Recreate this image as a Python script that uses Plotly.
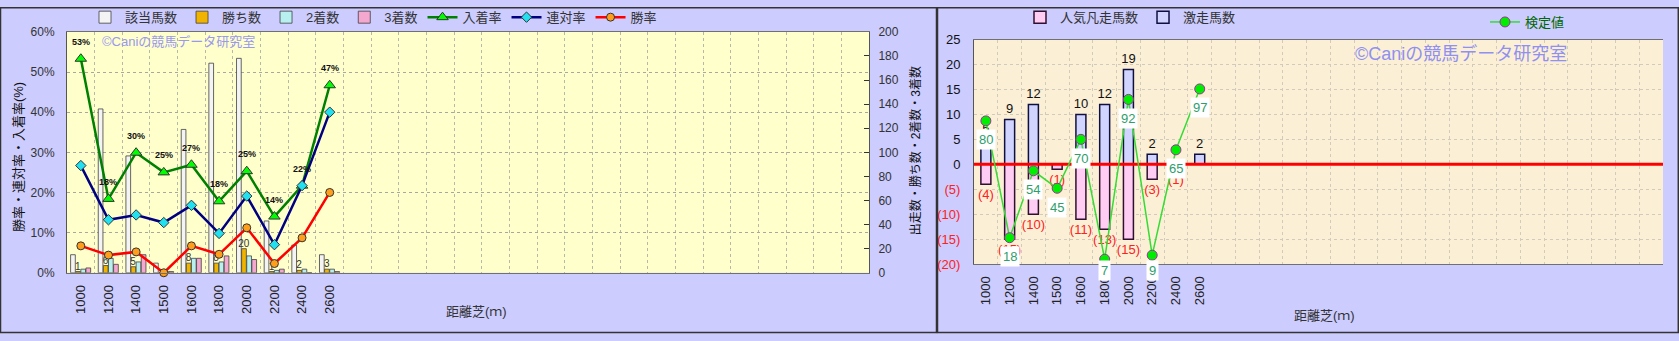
import plotly.graph_objects as go

# ---------------- data ----------------
categories = ["1000", "1200", "1400", "1500", "1600", "1800", "2000", "2200", "2400", "2600"]
n_slots = 29  # category slots on the x axis (only the first 10 are used)

# left chart: counts
runners = [15, 136, 97, 8, 119, 174, 178, 43, 23, 15]      # 該当馬数
wins = [1, 6, 5, 0, 8, 8, 20, 1, 2, 3]                       # 勝ち数
seconds = [3, 12, 9, 1, 12, 9, 14, 2, 3, 3]                  # 2着数
thirds = [4, 7, 15, 1, 12, 14, 11, 3, 0, 1]                  # 3着数
# left chart: rates (%)
place_rate = [53.3, 18.4, 29.9, 25.0, 26.9, 17.8, 25.3, 14.0, 21.7, 46.7]   # 入着率
quinella_rate = [26.7, 13.2, 14.4, 12.5, 16.8, 9.8, 19.1, 7.0, 21.7, 40.0]  # 連対率
win_rate = [6.7, 4.4, 5.2, 0.0, 6.7, 4.6, 11.2, 2.3, 8.7, 20.0]             # 勝率

# right chart
surprise = [5, 9, 12, 0, 10, 12, 19, 2, 0, 2]       # 激走馬数
flop = [4, 15, 10, 1, 11, 13, 15, 3, 1, 0]          # 人気凡走馬数 (drawn downward)
test_plot = [8.7, -14.7, -1.3, -4.8, 5.0, -19.0, 13.0, -18.2, 2.9, 15.1]  # 検定値 (plotted)
test_label = [80, 18, 54, 45, 70, 7, 92, 9, 65, 97]                       # 検定値 (label)

left_ticks_pct = [0, 10, 20, 30, 40, 50, 60]
right_ticks_cnt = [0, 20, 40, 60, 80, 100, 120, 140, 160, 180, 200]
r_ticks = [-20, -15, -10, -5, 0, 5, 10, 15, 20, 25]

# ---------------- layout helpers ----------------
W, H = 1679, 341
def px(x):
    return x / W
def py(y):
    return 1 - y / H

L_X0, L_X1, L_Y0, L_Y1 = 67, 869, 26, 278
R_X0, R_X1, R_Y0, R_Y1 = 974, 1663, 34, 269

FONT = "Liberation Sans, Arial, Noto Sans CJK JP"
xs = list(range(len(categories)))

fig = go.Figure()

# ---- left chart bars (base axis y, counts) ----
bar_w = 0.17
bar_specs = [
    ("該当馬数", runners, "#F4F4F4", -0.37),
    ("勝ち数", wins, "#F0B400", -0.185),
    ("2着数", seconds, "#B8F0F0", 0.0),
    ("3着数", thirds, "#F4A8D0", 0.185),
]
for name, vals, col, off in bar_specs:
    kw = {}
    if name == "勝ち数":
        kw = dict(text=[str(v) if v > 0 else "" for v in vals], textposition="outside",
                  textangle=0, constraintext="none", cliponaxis=False,
                  textfont=dict(size=10, color="#333333", family=FONT))
    fig.add_trace(go.Bar(
        x=xs, y=vals, name=name, xaxis="x", yaxis="y",
        width=bar_w, offset=off,
        marker=dict(color=col, line=dict(color="#404040", width=0.8)),
        legend="legend", hoverinfo="skip", **kw))

# ---- left chart lines (overlay axis y2, %) ----
line_specs = [
    ("入着率", place_rate, "#008000", "triangle-up", "#00FF00", 10),
    ("連対率", quinella_rate, "#000080", "diamond", "#22E0F0", 8),
    ("勝率", win_rate, "#FF0000", "circle", "#FF9E1A", 8),
]
for name, vals, lc, sym, mc, ms in line_specs:
    fig.add_trace(go.Scatter(
        x=xs, y=vals, name=name, xaxis="x", yaxis="y2", mode="lines+markers",
        line=dict(color=lc, width=2.5),
        marker=dict(symbol=sym, color=mc, size=ms, line=dict(color="#333333", width=1)),
        legend="legend", hoverinfo="skip", cliponaxis=False))

# ---- right chart bars ----
fig.add_trace(go.Bar(
    x=xs, y=[-v for v in flop], name="人気凡走馬数", xaxis="x2", yaxis="y3",
    width=0.42, offset=-0.21,
    marker=dict(color="#FFCCF4", line=dict(color="#301030", width=1.5)),
    text=[f"({v})" if v > 0 else "" for v in flop], textposition="outside",
    textangle=0, constraintext="none", cliponaxis=False,
    textfont=dict(size=13, color="#FF2020", family=FONT),
    legend="legend2", hoverinfo="skip"))
fig.add_trace(go.Bar(
    x=xs, y=surprise, name="激走馬数", xaxis="x2", yaxis="y3",
    width=0.42, offset=-0.21,
    marker=dict(color="#D0D4FF", line=dict(color="#101040", width=1.5)),
    text=[str(v) if v > 0 else "" for v in surprise], textposition="outside",
    textangle=0, constraintext="none", cliponaxis=False,
    textfont=dict(size=13, color="#111111", family=FONT),
    legend="legend2", hoverinfo="skip"))
# zero reference line
fig.add_trace(go.Scatter(
    x=[-0.5, n_slots - 0.5], y=[0, 0], xaxis="x2", yaxis="y3", mode="lines",
    line=dict(color="#FF0000", width=3), showlegend=False, hoverinfo="skip"))
# 検定値 line
fig.add_trace(go.Scatter(
    x=xs, y=test_plot, name="検定値", xaxis="x2", yaxis="y3", mode="lines+markers",
    line=dict(color="#33DD33", width=1.5),
    marker=dict(symbol="circle", color="#00EE00", size=10, line=dict(color="#993399", width=1)),
    legend="legend3", hoverinfo="skip", cliponaxis=False))

annotations = []
# 入着率 labels
for x, v in zip(xs, place_rate):
    annotations.append(dict(x=x, y=v, xref="x", yref="y2", text=f"<b>{v:.0f}%</b>",
                            showarrow=False, yshift=17, xanchor="center", yanchor="middle",
                            font=dict(size=9, color="#111111", family=FONT)))
# 検定値 labels (white boxes)
r_h = R_Y1 - R_Y0
for x, v, lab in zip(xs, test_plot, test_label):
    p = R_Y0 + (25 - v) / 45 * r_h
    lp = min(p + 19, 275)
    annotations.append(dict(x=x, y=v, xref="x2", yref="y3", text=str(lab),
                            showarrow=False, yshift=-(lp - p), bgcolor="#FFFFFF",
                            xanchor="center", yanchor="middle",
                            borderpad=2, font=dict(size=13, color="#2E9E6A", family=FONT)))
# axis titles and watermarks
def pa(x, y, text, size, color, angle=0, xanchor="center"):
    return dict(x=px(x), y=py(y), xref="paper", yref="paper", text=text, textangle=angle,
                showarrow=False, xanchor=xanchor, yanchor="middle",
                font=dict(size=size, color=color, family=FONT))

annotations += [
    pa(18, 157, "勝率・連対率・入着率(%)", 13, "#111111", -90),
    pa(915, 151, "出走数・勝ち数・2着数・3着数", 12, "#111111", -90),
    pa(476, 318, "距離芝(ｍ)", 13, "#333333"),
    pa(1324, 323, "距離芝(ｍ)", 13, "#333333"),
    pa(100, 36, "©Caniの競馬データ研究室", 13, "#9999EE", xanchor="left"),
    pa(1353, 49, "©Caniの競馬データ研究室", 18, "#9090F0", xanchor="left"),
]

r_ticktext = [f'<span style="color:#FF2020">({-t})</span>' if t < 0 else str(t) for t in r_ticks]

shapes = [
    dict(type="rect", xref="x2 domain", yref="y3 domain", x0=0, x1=1, y0=0, y1=1,
         fillcolor="#FBEFD6", line=dict(width=0), layer="below"),
    dict(type="rect", xref="paper", yref="paper", x0=px(0.5), x1=px(936.5), y0=py(340.5), y1=py(0.8),
         line=dict(color="#333333", width=1.5), layer="above"),
    dict(type="rect", xref="paper", yref="paper", x0=px(937.5), x1=px(1678.3), y0=py(340.5), y1=py(0.8),
         line=dict(color="#333333", width=1.5), layer="above"),
]

common_x = dict(range=[-0.5, n_slots - 0.5], tickmode="array", tickvals=xs, ticktext=categories,
                tickangle=-90, tickfont=dict(size=13, color="#222222", family=FONT),
                showgrid=False, zeroline=False, ticks="", ticklabelstandoff=6,
                showline=True, mirror=True, linecolor="#707070", linewidth=1)

fig.update_layout(
    width=W, height=H, autosize=False,
    margin=dict(l=0, r=0, t=0, b=0),
    paper_bgcolor="#CCCCFF", plot_bgcolor="#FFFFCC",
    font=dict(family=FONT, size=12, color="#333333"),
    barmode="overlay",
    xaxis=dict(domain=[px(L_X0), px(L_X1)], anchor="y", **common_x,
               minor=dict(tick0=-0.5, dtick=1, showgrid=True, gridcolor="#B8B8A8",
                          griddash="dot", gridwidth=1, ticks="")),
    yaxis=dict(domain=[py(L_Y1), py(L_Y0)], anchor="x", side="right", range=[0, 200],
               tickmode="array", tickvals=right_ticks_cnt, ticks="inside", ticklen=5,
               tickcolor="#333333", showgrid=False, zeroline=False, showline=True,
               linecolor="#555555", ticklabelstandoff=6,
               tickfont=dict(size=12, color="#333333", family=FONT)),
    yaxis2=dict(overlaying="y", anchor="x", side="left", range=[0, 60],
                tickmode="array", tickvals=left_ticks_pct,
                ticktext=[f"{v}%" for v in left_ticks_pct],
                showgrid=True, gridcolor="#A8A8A0", griddash="dot", gridwidth=1,
                zeroline=False, showline=True, linecolor="#555555", ticks="",
                ticklabelstandoff=9, tickfont=dict(size=12, color="#333333", family=FONT)),
    xaxis2=dict(domain=[px(R_X0), px(R_X1)], anchor="y3", **common_x,
                minor=dict(tick0=-0.5, dtick=1, showgrid=True, gridcolor="#D2CABA",
                           griddash="dot", gridwidth=1, ticks="")),
    yaxis3=dict(domain=[py(R_Y1), py(R_Y0)], anchor="x2", range=[-20, 25],
                tickmode="array", tickvals=r_ticks, ticktext=r_ticktext,
                showgrid=True, gridcolor="#D2CABA", griddash="dot", gridwidth=1,
                zeroline=False, showline=True, linecolor="#555555", ticks="",
                ticklabelstandoff=10, tickfont=dict(size=13, color="#111111", family=FONT)),
    legend=dict(orientation="h", x=px(85), y=py(-5), xanchor="left", yanchor="top",
                bgcolor="rgba(0,0,0,0)", font=dict(size=13, color="#333333", family=FONT),
                traceorder="normal"),
    legend2=dict(orientation="h", x=px(1020), y=py(-5), xanchor="left", yanchor="top",
                 bgcolor="rgba(0,0,0,0)", font=dict(size=13, color="#333333", family=FONT),
                 traceorder="normal"),
    legend3=dict(orientation="h", x=px(1485), y=py(0), xanchor="left", yanchor="top",
                 bgcolor="rgba(0,0,0,0)", font=dict(size=13, color="#006600", family=FONT)),
    annotations=annotations,
    shapes=shapes,
)

fig.write_html("out.html")
